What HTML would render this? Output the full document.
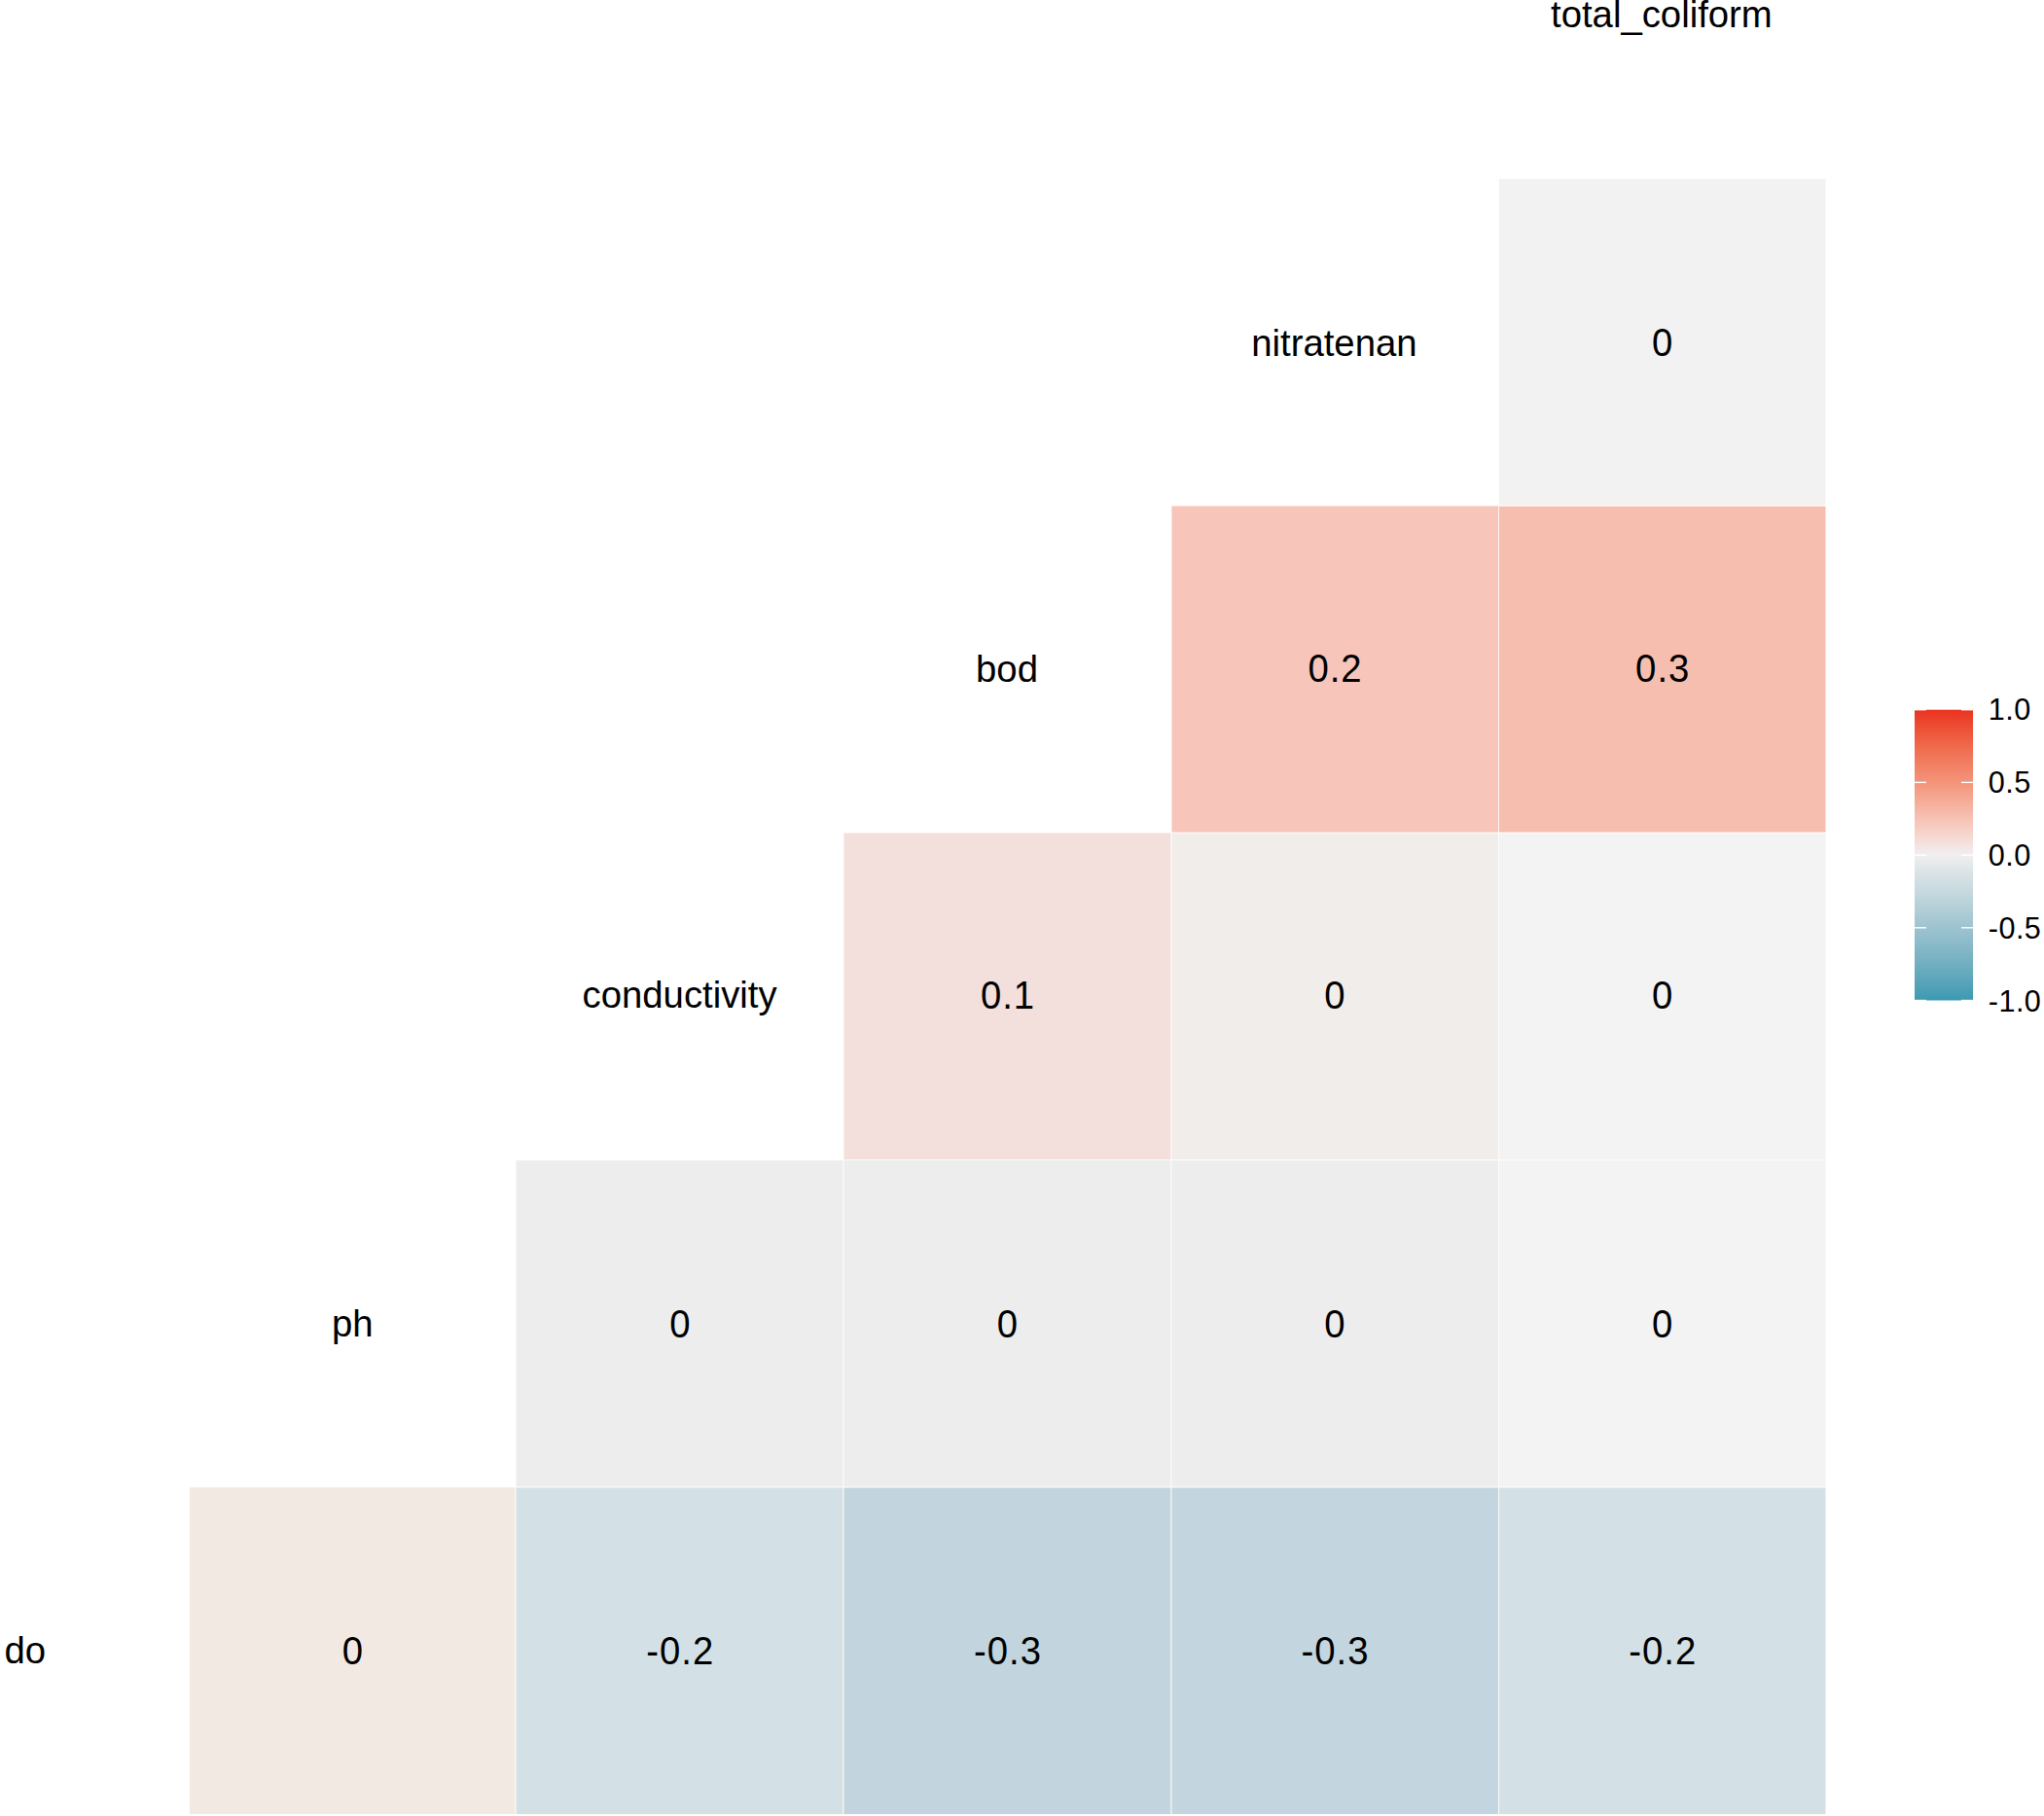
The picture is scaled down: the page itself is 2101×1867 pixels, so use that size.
<!DOCTYPE html>
<html lang="en">
<head>
<meta charset="utf-8">
<title>Correlation matrix</title>
<style>
html,body{margin:0;padding:0;background:#fff;}
body{width:2101px;height:1867px;overflow:hidden;}
svg{display:block;}
text{font-family:"Liberation Sans",Arial,Helvetica,sans-serif;fill:#000;}
.n{font-size:38.3px;text-anchor:middle;}
.v{font-size:38.3px;text-anchor:middle;letter-spacing:1px;}
.l{font-size:30.6px;text-anchor:start;letter-spacing:0.45px;}
</style>
</head>
<body>
<svg width="2101" height="1867" viewBox="0 0 2101 1867">
<defs>
<linearGradient id="g" x1="0" y1="0" x2="0" y2="1">
<stop offset="0.0000" stop-color="#EA3220"/>
<stop offset="0.0625" stop-color="#ED5036"/>
<stop offset="0.1250" stop-color="#F0694B"/>
<stop offset="0.1875" stop-color="#F27F63"/>
<stop offset="0.2500" stop-color="#F3947A"/>
<stop offset="0.3125" stop-color="#F5AB96"/>
<stop offset="0.3750" stop-color="#F7C2B4"/>
<stop offset="0.4375" stop-color="#F5D9D1"/>
<stop offset="0.5000" stop-color="#F1EFF0"/>
<stop offset="0.5625" stop-color="#DAE3E6"/>
<stop offset="0.6250" stop-color="#C6D9DF"/>
<stop offset="0.6875" stop-color="#B2CED7"/>
<stop offset="0.7500" stop-color="#9DC3D0"/>
<stop offset="0.8125" stop-color="#88B9C8"/>
<stop offset="0.8750" stop-color="#71AFC1"/>
<stop offset="0.9375" stop-color="#59A4B9"/>
<stop offset="1.0000" stop-color="#3B9AB2"/>
</linearGradient>
</defs>
<rect x="0" y="0" width="2101" height="1867" fill="#ffffff"/>

<g stroke="#ffffff" stroke-width="0.8">
<rect x="194.6" y="1528.9" width="335.5" height="336.5" fill="#F2E9E3"/>
<rect x="530.1" y="1528.9" width="336.9" height="336.5" fill="#D3E0E5"/>
<rect x="867.0" y="1528.9" width="337.0" height="336.5" fill="#C2D4DD"/>
<rect x="1204.0" y="1528.9" width="336.4" height="336.5" fill="#C3D5DE"/>
<rect x="1540.4" y="1528.9" width="336.5" height="336.5" fill="#D3E0E5"/>
<rect x="530.1" y="1192.4" width="336.9" height="336.5" fill="#EDEDED"/>
<rect x="867.0" y="1192.4" width="337.0" height="336.5" fill="#EDEDED"/>
<rect x="1204.0" y="1192.4" width="336.4" height="336.5" fill="#EDEDED"/>
<rect x="1540.4" y="1192.4" width="336.5" height="336.5" fill="#F3F3F3"/>
<rect x="867.0" y="856.0" width="337.0" height="336.4" fill="#F3DFDB"/>
<rect x="1204.0" y="856.0" width="336.4" height="336.4" fill="#F1EDEA"/>
<rect x="1540.4" y="856.0" width="336.5" height="336.4" fill="#F3F3F3"/>
<rect x="1204.0" y="519.9" width="336.4" height="336.1" fill="#F7C5B9"/>
<rect x="1540.4" y="519.9" width="336.5" height="336.1" fill="#F6BEAF"/>
<rect x="1540.4" y="183.7" width="336.5" height="336.2" fill="#F2F2F2"/>
</g>
<g class="v">
<text transform="translate(362.8 1711.20) scale(1 1.06)">0</text>
<text transform="translate(699.3 1711.20) scale(1 1.06)">-0.2</text>
<text transform="translate(1036.0 1711.20) scale(1 1.06)">-0.3</text>
<text transform="translate(1372.5 1711.20) scale(1 1.06)">-0.3</text>
<text transform="translate(1709.2 1711.20) scale(1 1.06)">-0.2</text>
<text transform="translate(699.3 1374.85) scale(1 1.06)">0</text>
<text transform="translate(1036.0 1374.85) scale(1 1.06)">0</text>
<text transform="translate(1372.5 1374.85) scale(1 1.06)">0</text>
<text transform="translate(1709.2 1374.85) scale(1 1.06)">0</text>
<text transform="translate(1036.0 1037.40) scale(1 1.06)">0.1</text>
<text transform="translate(1372.5 1037.40) scale(1 1.06)">0</text>
<text transform="translate(1709.2 1037.40) scale(1 1.06)">0</text>
<text transform="translate(1372.5 700.60) scale(1 1.06)">0.2</text>
<text transform="translate(1709.2 700.60) scale(1 1.06)">0.3</text>
<text transform="translate(1709.2 365.50) scale(1 1.06)">0</text>
</g>
<g class="n">
<text x="25.8" y="1710.05">do</text>
<text x="362.2" y="1373.70">ph</text>
<text x="698.6" y="1036.35">conductivity</text>
<text x="1035.0" y="700.55">bod</text>
<text x="1371.4" y="365.65">nitratenan</text>
<text x="1707.9" y="28.05">total_coliform</text>
</g>
<rect x="1968" y="729.7" width="60" height="298.8" fill="url(#g)"/>
<g stroke="#ffffff" stroke-width="1.4">
<line x1="1968" y1="729.7" x2="1980" y2="729.7"/>
<line x1="2016" y1="729.7" x2="2028" y2="729.7"/>
<line x1="1968" y1="804.4" x2="1980" y2="804.4"/>
<line x1="2016" y1="804.4" x2="2028" y2="804.4"/>
<line x1="1968" y1="879.1" x2="1980" y2="879.1"/>
<line x1="2016" y1="879.1" x2="2028" y2="879.1"/>
<line x1="1968" y1="953.8" x2="1980" y2="953.8"/>
<line x1="2016" y1="953.8" x2="2028" y2="953.8"/>
<line x1="1968" y1="1028.5" x2="1980" y2="1028.5"/>
<line x1="2016" y1="1028.5" x2="2028" y2="1028.5"/>
</g>
<g class="l">
<text transform="translate(2043.8 740.00) scale(1 1.05)">1.0</text>
<text transform="translate(2043.8 814.90) scale(1 1.05)">0.5</text>
<text transform="translate(2043.8 889.80) scale(1 1.05)">0.0</text>
<text transform="translate(2043.8 964.70) scale(1 1.05)">-0.5</text>
<text transform="translate(2043.8 1039.60) scale(1 1.05)">-1.0</text>
</g>
</svg>
</body>
</html>
